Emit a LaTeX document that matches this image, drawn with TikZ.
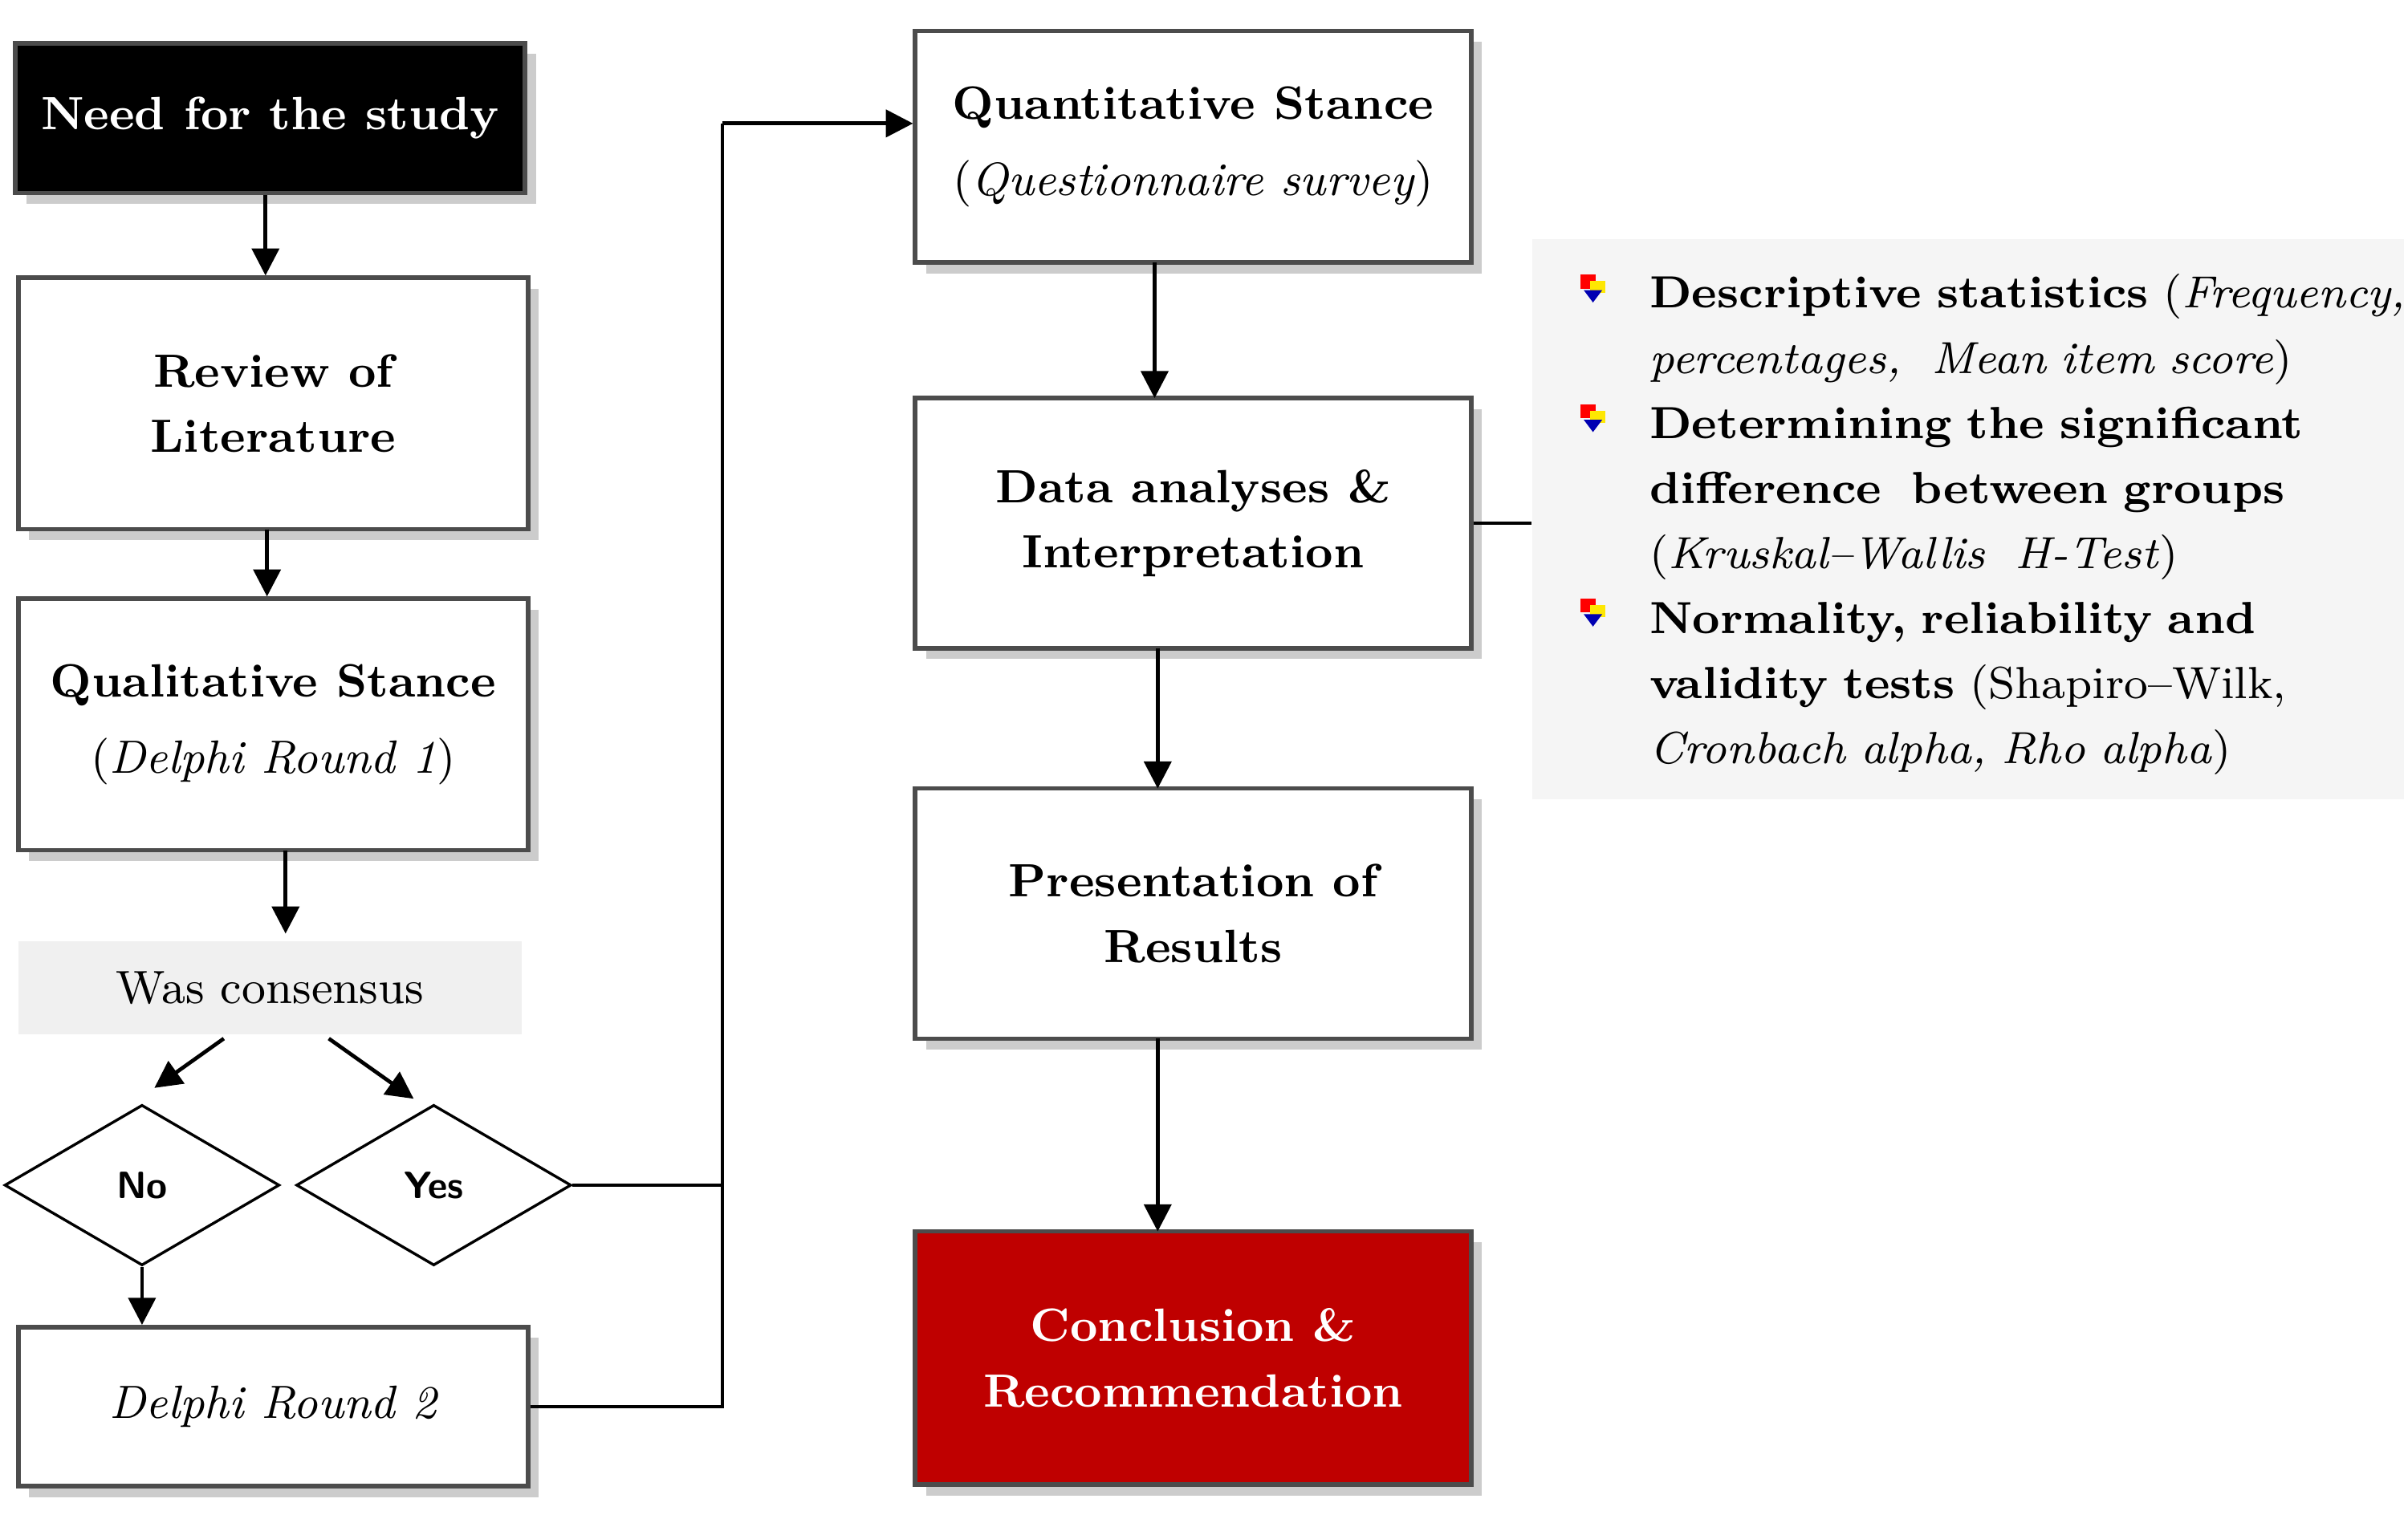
\documentclass[tikz,border=0pt]{standalone}
\usetikzlibrary{shapes.geometric,shadows,arrows.meta}
\begin{document}
\begin{tikzpicture}[x=0.01cm,y=-0.01cm,
  box/.style={draw=black!70,line width=0.8pt,fill=white,drop shadow={shadow xshift=2pt,shadow yshift=-2pt,opacity=0.4},align=center,font=\fontsize{8.6}{12}\selectfont\bfseries,inner sep=0pt},
  dia/.style={diamond,draw=black,line width=0.5pt,font=\sffamily\bfseries\scriptsize,inner sep=0pt,minimum width=1.78cm,minimum height=1.04cm},
  arr/.style={-{Triangle[length=5pt,width=5pt]},line width=0.7pt},
  ln/.style={line width=0.7pt}]
\useasboundingbox (0,0) rectangle (1560,984);
\fill[white] (0,0) rectangle (1560,984);
\node[box,fill=black,text=white,minimum width=3.3cm,minimum height=0.97cm] (need) at (175,76.5) {Need for the study};
\node[box,minimum width=3.3cm,minimum height=1.63cm] (rev) at (177,261.5) {Review of\\Literature};
\node[box,minimum width=3.3cm,minimum height=1.63cm,font=\fontsize{8.6}{14}\selectfont] (qual) at (177,469.5) {\textbf{Qualitative Stance}\\(\textit{Delphi Round 1})};
\node[fill=black!6,minimum width=3.26cm,minimum height=0.6cm,inner sep=0pt,font=\fontsize{8.6}{12}\selectfont] (cons) at (175,640) {Was consensus};
\node[dia] (no) at (92,768) {No};
\node[dia] (yes) at (281,768) {Yes};
\node[box,minimum width=3.3cm,minimum height=1.03cm,font=\fontsize{8.6}{12}\selectfont\itshape] (d2) at (177,911.5) {Delphi Round 2};
\node[box,minimum width=3.6cm,minimum height=1.5cm,font=\fontsize{8.6}{14}\selectfont] (quant) at (773,95) {\textbf{Quantitative Stance}\\(\textit{Questionnaire survey})};
\node[box,minimum width=3.6cm,minimum height=1.62cm] (data) at (773,339) {Data analyses \&\\Interpretation};
\node[box,minimum width=3.6cm,minimum height=1.62cm] (pres) at (773,592) {Presentation of\\Results};
\node[box,fill=red!75!black,text=white,minimum width=3.6cm,minimum height=1.64cm] (conc) at (773,880) {Conclusion \&\\Recommendation};
\node[fill=black!4,minimum width=5.64cm,minimum height=3.63cm,inner sep=0pt] (panel) at (1275,336.5) {};
\node[anchor=north west,text width=4.9cm,font=\fontsize{8.3}{12}\selectfont,align=left,inner sep=0pt] (list) at (1068,177) {%
\textbf{Descriptive statistics} (\textit{Frequency,\\ percentages,\ \ Mean item score})\\
\textbf{Determining the significant\\ difference\ \ between groups}\\ (\textit{Kruskal--Wallis\ \ H-Test})\\
\textbf{Normality, reliability and\\ validity tests} (Shapiro--Wilk,\\ \textit{Cronbach alpha, Rho alpha})};
\foreach \yy in {187,271,397}{
  \fill[red] (1024,\yy-9) rectangle (1034,\yy);
  \fill[yellow!90!orange] (1030,\yy-5) rectangle (1040,\yy+3);
  \fill[blue!70!black] (1026,\yy+1) -- (1038,\yy+1) -- (1032,\yy+9) -- cycle;}
\draw[arr] (need.south -| 172,0) -- (rev.north -| 172,0);
\draw[arr] (173,343) -- (qual.north -| 173,0);
\draw[arr] (185,551) -- (185,605);
\draw[arr] (145,673) -- (100,705);
\draw[arr] (213,673) -- (268,712);
\draw[arr] (no.south) -- (d2.north -| no.south);
\draw[ln] (yes.east) -- (468,768) -- (468,80);
\draw[arr] (468,80) -- (quant.west |- 0,80);
\draw[ln] (d2.east) -- (468,911.5) -- (468,768);
\draw[arr] (748,170) -- (748,258);
\draw[arr] (750,420) -- (750,511);
\draw[arr] (750,673) -- (750,798);
\draw[ln] (data.east) -- (panel.west |- data.east);
\end{tikzpicture}
\end{document}
